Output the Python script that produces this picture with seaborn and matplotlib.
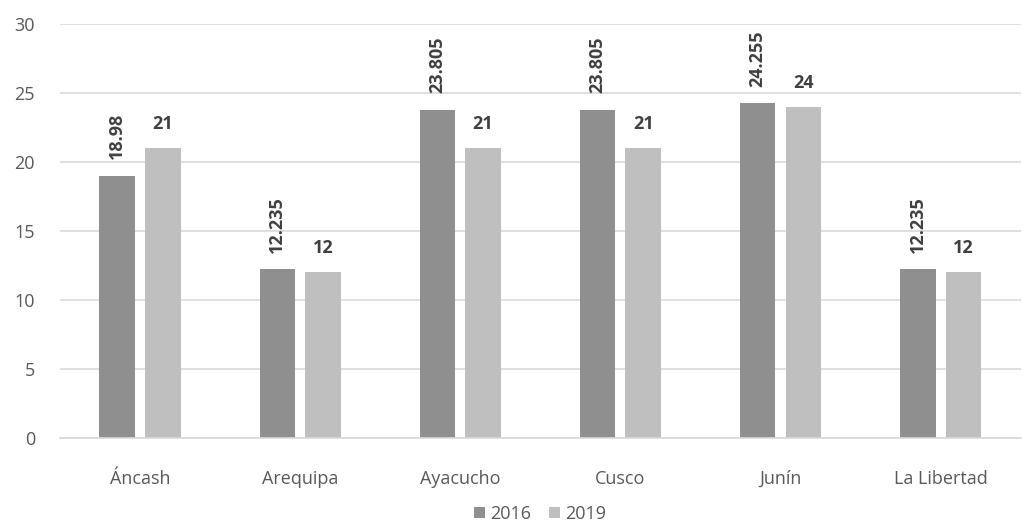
import pandas as pd
import matplotlib.pyplot as plt
import seaborn as sns

regions = ["Áncash", "Arequipa", "Ayacucho", "Cusco", "Junín", "La Libertad"]
vals_2016 = [18.98, 12.235, 23.805, 23.805, 24.255, 12.235]
vals_2019 = [21, 12, 21, 21, 24, 12]
labels_2016 = ["18.98", "12.235", "23.805", "23.805", "24.255", "12.235"]
labels_2019 = ["21", "12", "21", "21", "24", "12"]

df = pd.DataFrame({
    "Region": regions * 2,
    "Year": ["2016"] * len(regions) + ["2019"] * len(regions),
    "Value": vals_2016 + vals_2019,
})

sns.set_style("white")
plt.rcParams["font.family"] = ["Open Sans", "DejaVu Sans"]

fig = plt.figure(figsize=(10.22, 5.29), dpi=100)
ax = fig.add_axes([0.0587, 0.172, 0.94, 0.7826])

palette = {"2016": "#8f8f8f", "2019": "#bfbfbf"}
sns.barplot(data=df, x="Region", y="Value", hue="Year", palette=palette,
            width=0.57, gap=0.22, ax=ax, saturation=1, legend=True,
            edgecolor="none")

ax.set_ylim(0, 30)
ax.set_yticks(range(0, 31, 5))
ax.yaxis.grid(True, color="#d9d9d9", linewidth=1.2)
ax.set_axisbelow(True)
for s in ["top", "right", "left"]:
    ax.spines[s].set_visible(False)
ax.spines["bottom"].set_color("#d9d9d9")
ax.spines["bottom"].set_linewidth(1.2)
ax.tick_params(axis="both", length=0, labelsize=13, colors="#595959")
ax.tick_params(axis="y", pad=18)
ax.tick_params(axis="x", pad=23)
ax.set_xlabel("")
ax.set_ylabel("")
ax.set_xlim(-0.5, len(regions) - 0.5)

cont_2016, cont_2019 = ax.containers[0], ax.containers[1]
for bar, lab in zip(cont_2016, labels_2016):
    ax.annotate(lab, (bar.get_x() + bar.get_width() / 2, bar.get_height()),
                xytext=(0, 12), textcoords="offset points", rotation=90,
                ha="center", va="bottom", fontsize=13, fontweight="bold",
                color="#404040")
for bar, lab in zip(cont_2019, labels_2019):
    ax.annotate(lab, (bar.get_x() + bar.get_width() / 2, bar.get_height()),
                xytext=(0, 11), textcoords="offset points",
                ha="center", va="bottom", fontsize=13, fontweight="bold",
                color="#404040")

handles, labs = ax.get_legend_handles_labels()
ax.legend(handles, labs, loc="lower center", bbox_to_anchor=(0.5, -0.235),
          ncol=2, frameon=False, fontsize=13, handlelength=0.6,
          handleheight=0.6, handletextpad=0.3, columnspacing=1.0,
          labelcolor="#595959", borderpad=0.2)

plt.savefig("out.png", dpi=100)
